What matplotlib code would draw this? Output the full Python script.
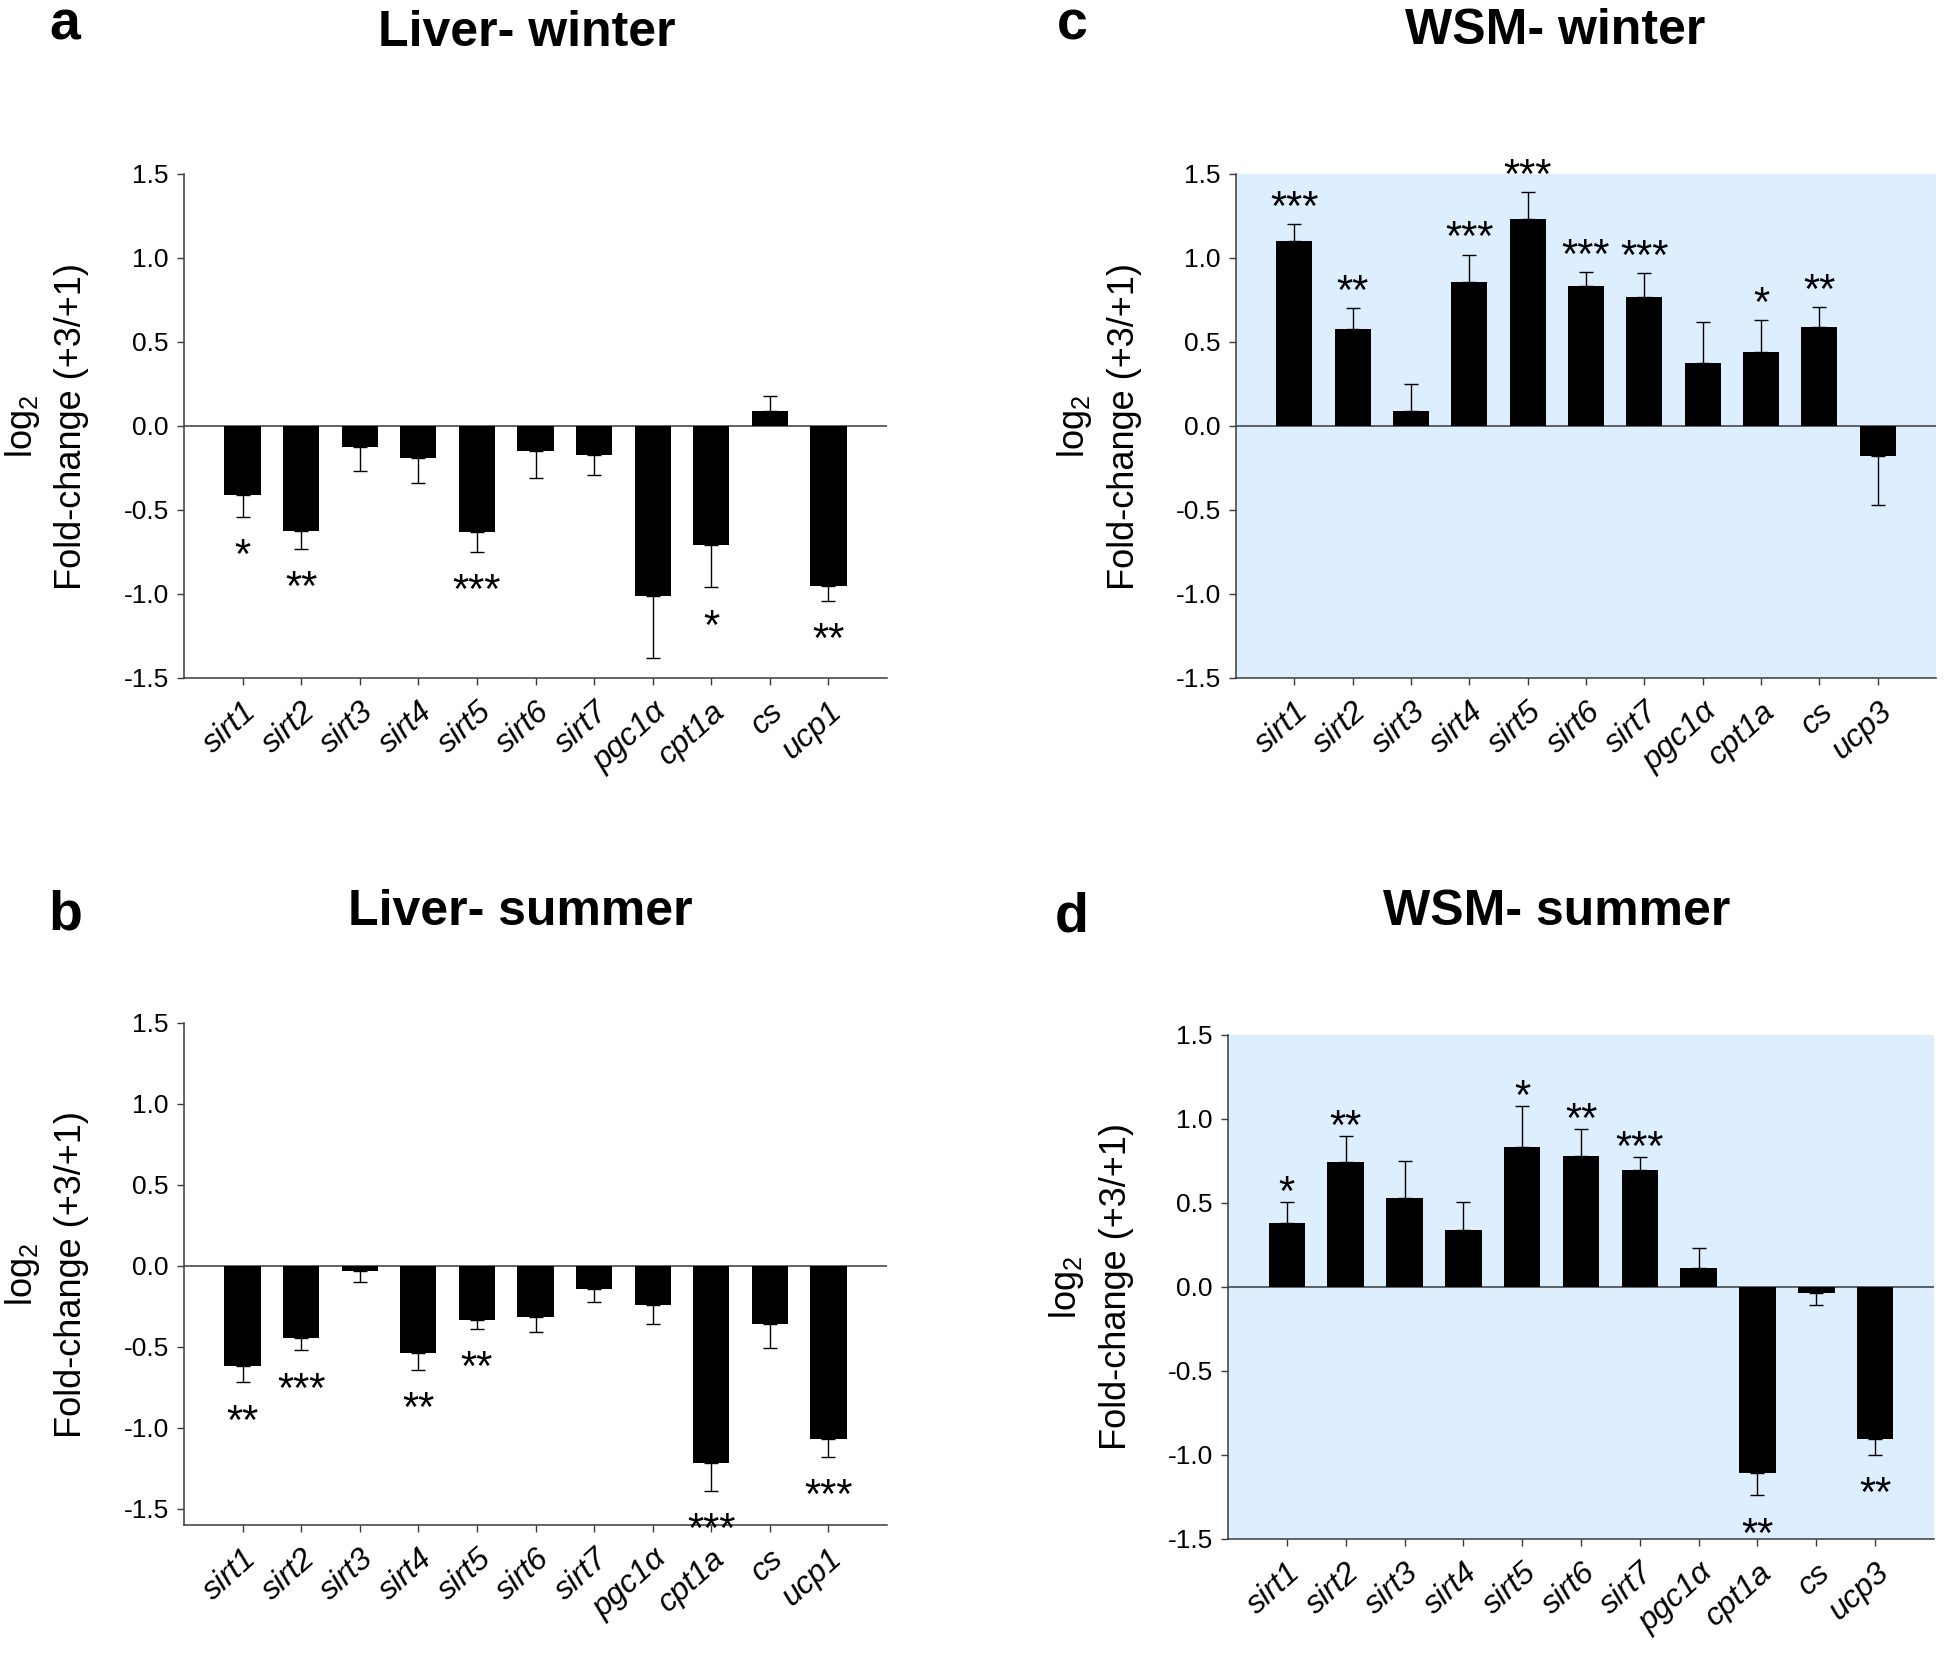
import matplotlib
matplotlib.use("Agg")
import matplotlib.pyplot as plt
import numpy as np

plt.rcParams['font.family'] = ['Liberation Sans', 'DejaVu Sans']
plt.rcParams['axes.unicode_minus'] = False
plt.rcParams['mathtext.default'] = 'regular'

genes_liver = ["sirt1", "sirt2", "sirt3", "sirt4", "sirt5", "sirt6", "sirt7", "pgc1α", "cpt1a", "cs", "ucp1"]
genes_wsm = ["sirt1", "sirt2", "sirt3", "sirt4", "sirt5", "sirt6", "sirt7", "pgc1α", "cpt1a", "cs", "ucp3"]

# Panel a: Liver - winter
liver_winter = [-0.41, -0.625, -0.125, -0.19, -0.63, -0.15, -0.17, -1.01, -0.71, 0.0875, -0.95]
liver_winter_err = [0.13, 0.105, 0.145, 0.15, 0.12, 0.16, 0.12, 0.37, 0.25, 0.0925, 0.09]
liver_winter_sig = ["*", "**", "", "", "***", "", "", "", "*", "", "**"]

# Panel b: Liver - summer
liver_summer = [-0.617, -0.445, -0.03, -0.54, -0.334, -0.315, -0.14, -0.24, -1.217, -0.36, -1.07]
liver_summer_err = [0.103, 0.075, 0.07, 0.10, 0.056, 0.095, 0.08, 0.12, 0.173, 0.15, 0.11]
liver_summer_sig = ["**", "***", "", "**", "**", "", "", "", "***", "", "***"]

# Panel c: WSM - winter
wsm_winter = [1.10, 0.58, 0.0875, 0.856, 1.234, 0.834, 0.77, 0.375, 0.44, 0.59, -0.18]
wsm_winter_err = [0.10, 0.12, 0.1625, 0.164, 0.156, 0.082, 0.14, 0.245, 0.19, 0.12, 0.29]
wsm_winter_sig = ["***", "**", "", "***", "***", "***", "***", "", "*", "**", ""]

# Panel d: WSM - summer
wsm_summer = [0.378, 0.744, 0.531, 0.34, 0.834, 0.78, 0.694, 0.1125, -1.11, -0.034, -0.903]
wsm_summer_err = [0.125, 0.153, 0.219, 0.163, 0.244, 0.158, 0.081, 0.1175, 0.13, 0.072, 0.097]
wsm_summer_sig = ["*", "**", "", "", "*", "**", "***", "", "**", "", "**"]

yticks = [-1.5, -1.0, -0.5, 0.0, 0.5, 1.0, 1.5]

W, H = 1946, 1653
fig = plt.figure(figsize=(W / 100, H / 100), dpi=100)


def px_axes(left, right, top, bottom):
    return fig.add_axes([left / W, 1 - bottom / H, (right - left) / W, (bottom - top) / H])


SPINE = '#3a3a3a'


def panel(ax, genes, vals, errs, sig, ylim, face=None, pos_off=0):
    vals = np.array(vals)
    errs = np.array(errs)
    x = np.arange(len(genes))
    lower = np.where(vals < 0, errs, 0)
    upper = np.where(vals >= 0, errs, 0)
    if face:
        ax.set_facecolor(face)
    ax.axhline(0, color=SPINE, lw=1.1, zorder=1)
    ax.bar(x, vals, width=0.62, color='black', zorder=2)
    ax.errorbar(x, vals, yerr=[lower, upper], fmt='none', ecolor='black',
                elinewidth=1.0, capsize=5, capthick=1.0, zorder=3)
    for xi, v, e, s in zip(x, vals, errs, sig):
        if not s:
            continue
        if v >= 0:
            ax.annotate(s, xy=(xi, v + e), xytext=(0, pos_off), textcoords='offset points',
                        ha='center', va='baseline', fontsize=30)
        else:
            ax.annotate(s, xy=(xi, v - e), xytext=(0, -37), textcoords='offset points',
                        ha='center', va='baseline', fontsize=30)
    ax.set_xlim(-1, 11)
    ax.set_ylim(*ylim)
    ax.set_yticks(yticks)
    ax.set_yticklabels([f"{t:.1f}" for t in yticks], fontsize=19)
    ax.set_xticks(x)
    ax.set_xticklabels(genes, rotation=42, ha='right', va='top', rotation_mode='anchor',
                       fontsize=23, style='italic')
    for sp in ['top', 'right']:
        ax.spines[sp].set_visible(False)
    for sp in ['left', 'bottom']:
        ax.spines[sp].set_color(SPINE)
        ax.spines[sp].set_linewidth(1.1)
    ax.tick_params(axis='both', direction='out', length=5, width=1.0, color=SPINE)
    ax.tick_params(axis='x', pad=8)
    ax.tick_params(axis='y', pad=6)


def ylabels(ax_left_px, top, bottom):
    yc = 1 - (top + bottom) / 2 / H
    fig.text((ax_left_px - 162) / W, yc, r"log$_{2}$", rotation=90, ha='center', va='center', fontsize=26)
    fig.text((ax_left_px - 112) / W, yc, "Fold-change (+3/+1)", rotation=90, ha='center', va='center', fontsize=26)


BLUE = '#DDEEFF'

ax_a = px_axes(184, 887, 174, 678)
panel(ax_a, genes_liver, liver_winter, liver_winter_err, liver_winter_sig, (-1.5, 1.5))
ylabels(184, 174, 678)

ax_c = px_axes(1236, 1936, 174, 678)
panel(ax_c, genes_wsm, wsm_winter, wsm_winter_err, wsm_winter_sig, (-1.5, 1.5), face=BLUE, pos_off=3)
ylabels(1236, 174, 678)

ax_b = px_axes(184, 887, 1023, 1525)
panel(ax_b, genes_liver, liver_summer, liver_summer_err, liver_summer_sig, (-1.6, 1.5))
ylabels(184, 1023, 1525)

ax_d = px_axes(1228, 1934, 1035, 1539)
panel(ax_d, genes_wsm, wsm_summer, wsm_summer_err, wsm_summer_sig, (-1.5, 1.5), face=BLUE, pos_off=-2)
ylabels(1228, 1035, 1539)

# titles and panel letters (baseline positions in pixels)
def ftext(xp, yp, s, size):
    fig.text(xp / W, 1 - yp / H, s, ha='center', va='baseline', fontsize=size, fontweight='bold')

ftext(527, 46, "Liver- winter", 36)
ftext(1555, 44, "WSM- winter", 36)
ftext(520, 925, "Liver- summer", 36)
ftext(1557, 925, "WSM- summer", 36)

ftext(65, 39, "a", 40)
ftext(65, 929, "b", 40)
ftext(1072, 39, "c", 40)
ftext(1072, 932, "d", 40)

fig.savefig("out.png", dpi=100)
